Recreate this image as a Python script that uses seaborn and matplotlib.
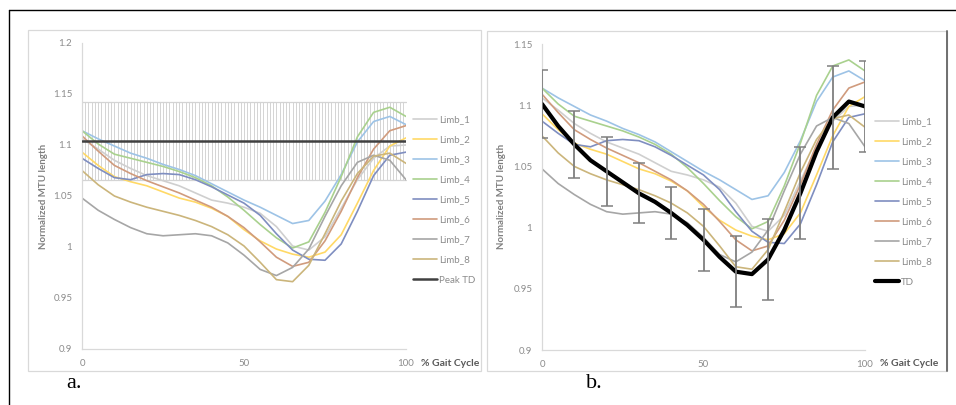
import matplotlib
matplotlib.use("Agg")
import matplotlib.pyplot as plt
from matplotlib.lines import Line2D
from matplotlib.patches import Rectangle
import pandas as pd
import seaborn as sns

# ---------------- data ----------------
PCT = list(range(0, 101, 5))

LIMB_1 = [1.106, 1.096, 1.085, 1.077, 1.070, 1.065, 1.060, 1.053, 1.046, 1.043, 1.039,
          1.033, 1.020, 1.001, 0.997, 1.010, 1.038, 1.066, 1.087, 1.099, 1.100]
LIMB_2 = [1.093, 1.080, 1.069, 1.064, 1.060, 1.054, 1.048, 1.044, 1.038, 1.030, 1.017,
          1.006, 0.998, 0.993, 0.990, 0.995, 1.012, 1.043, 1.075, 1.099, 1.107]
LIMB_3 = [1.114, 1.106, 1.099, 1.092, 1.087, 1.081, 1.076, 1.070, 1.062, 1.054, 1.046,
          1.039, 1.031, 1.023, 1.026, 1.045, 1.071, 1.103, 1.123, 1.128, 1.120]
LIMB_4 = [1.114, 1.101, 1.091, 1.087, 1.083, 1.079, 1.074, 1.068, 1.060, 1.049, 1.036,
          1.022, 1.009, 0.999, 1.005, 1.034, 1.069, 1.108, 1.132, 1.137, 1.128]
LIMB_5 = [1.087, 1.077, 1.068, 1.066, 1.071, 1.072, 1.071, 1.066, 1.059, 1.051, 1.043,
          1.031, 1.013, 0.997, 0.988, 0.987, 1.003, 1.035, 1.070, 1.090, 1.093]
LIMB_6 = [1.109, 1.094, 1.080, 1.072, 1.065, 1.059, 1.053, 1.046, 1.039, 1.030, 1.019,
          1.005, 0.990, 0.981, 0.985, 1.006, 1.035, 1.068, 1.096, 1.114, 1.119]
LIMB_7 = [1.048, 1.036, 1.027, 1.019, 1.013, 1.011, 1.012, 1.013, 1.011, 1.004, 0.992,
          0.978, 0.972, 0.980, 0.998, 1.030, 1.060, 1.083, 1.090, 1.085, 1.066]
LIMB_8 = [1.075, 1.061, 1.050, 1.044, 1.039, 1.035, 1.031, 1.026, 1.020, 1.012, 1.001,
          0.985, 0.968, 0.966, 0.982, 1.013, 1.045, 1.072, 1.089, 1.092, 1.082]

TD = [1.101, 1.083, 1.068, 1.055, 1.046, 1.037, 1.028, 1.021, 1.012, 1.002, 0.990,
      0.976, 0.964, 0.962, 0.974, 0.998, 1.028, 1.062, 1.090, 1.103, 1.099]
TD_ERR_PCT = list(range(0, 101, 10))
TD_ERR_MEAN = [1.101, 1.068, 1.046, 1.028, 1.012, 0.990, 0.964, 0.974, 1.028, 1.090, 1.099]
TD_SD = [0.028, 0.0275, 0.028, 0.0245, 0.0215, 0.0255, 0.029, 0.033, 0.0375, 0.042, 0.037]

PEAK_TD = 1.104
PEAK_TD_SD = 0.038
BAND_PCT = list(range(0, 101))

LIMB_NAMES = ["Limb_1", "Limb_2", "Limb_3", "Limb_4", "Limb_5", "Limb_6", "Limb_7", "Limb_8"]
LIMB_COLORS = ["#CFCFCF", "#FFD966", "#9DC3E6", "#A9D18E", "#7F8EC0", "#D09B7D",
               "#A6A6A6", "#CBB57B"]

YTICKS_A = [0.9, 0.95, 1.0, 1.05, 1.1, 1.15, 1.2]
YLABELS_A = ["0.9", "0.95", "1", "1.05", "1.1", "1.15", "1.2"]
YTICKS_B = [0.9, 0.95, 1.0, 1.05, 1.1, 1.15]
YLABELS_B = ["0.9", "0.95", "1", "1.05", "1.1", "1.15"]
XTICKS = [0, 50, 100]
XLABELS = ["0", "50", "100"]

# ---------------- style ----------------
sns.set_style("white")
plt.rcParams["font.family"] = ["Lato", "DejaVu Sans"]

W, H = 956, 405
fig = plt.figure(figsize=(W / 100, H / 100), dpi=100)


def fx(x):
    return x / W


def fy(y):
    return 1 - y / H


long = pd.DataFrame({
    "pct": PCT * len(LIMB_NAMES),
    "value": LIMB_1 + LIMB_2 + LIMB_3 + LIMB_4 + LIMB_5 + LIMB_6 + LIMB_7 + LIMB_8,
    "limb": [n for n in LIMB_NAMES for _ in PCT],
})
palette = dict(zip(LIMB_NAMES, LIMB_COLORS))

GRID = "#D9D9D9"
TICKC = "#8C8C8C"


def style_axes(ax, ylim, yt, yl):
    ax.set_xlim(0, 100)
    ax.set_ylim(*ylim)
    ax.set_xticks(XTICKS)
    ax.set_xticklabels(XLABELS)
    ax.set_yticks(yt)
    ax.set_yticklabels(yl)
    for s in ["top", "right"]:
        ax.spines[s].set_visible(False)
    for s in ["left", "bottom"]:
        ax.spines[s].set_color(GRID)
        ax.spines[s].set_linewidth(0.9)
    ax.tick_params(axis="both", length=0, labelsize=7, labelcolor=TICKC)
    ax.tick_params(axis="y", pad=7)
    ax.tick_params(axis="x", pad=7)
    ax.set_xlabel("")
    ax.set_ylabel("")
    ax.patch.set_alpha(0)


LEG_KW = dict(loc="upper left", bbox_transform=fig.transFigure, frameon=False,
              fontsize=7, handlelength=2.5, handletextpad=0.15, labelspacing=1.14,
              borderpad=0, borderaxespad=0)

# ---------------- panel a ----------------
axA = fig.add_axes([fx(82), 1 - 349 / H, 324 / W, 306 / H])
axA.errorbar(BAND_PCT, [PEAK_TD] * len(BAND_PCT), yerr=PEAK_TD_SD, fmt="none",
             ecolor="#D4D4D4", elinewidth=0.7, capsize=2.4, capthick=0.8, zorder=1)
sns.lineplot(data=long, x="pct", y="value", hue="limb", palette=palette, ax=axA,
             legend=False, linewidth=1.2, zorder=2)
sns.lineplot(x=BAND_PCT, y=[PEAK_TD] * len(BAND_PCT), ax=axA, color="#404040",
             linewidth=1.8, zorder=3)
style_axes(axA, (0.9, 1.2), YTICKS_A, YLABELS_A)

handlesA = [Line2D([], [], color=c, lw=1.2) for c in LIMB_COLORS] + \
           [Line2D([], [], color="#404040", lw=1.8)]
legA = axA.legend(handlesA, LIMB_NAMES + ["Peak TD"],
                  bbox_to_anchor=(fx(413), fy(115)), **LEG_KW)
for t in legA.get_texts():
    t.set_color(TICKC)

# ---------------- panel b ----------------
axB = fig.add_axes([fx(542), 1 - 350 / H, 323 / W, 306 / H])
sns.lineplot(data=long, x="pct", y="value", hue="limb", palette=palette, ax=axB,
             legend=False, linewidth=1.2, zorder=2)
sns.lineplot(x=PCT, y=TD, ax=axB, color="black", linewidth=3.0, zorder=3)
axB.errorbar(TD_ERR_PCT, TD_ERR_MEAN, yerr=TD_SD, fmt="none", ecolor="#7F7F7F",
             elinewidth=1.3, capsize=4.0, capthick=1.1, zorder=4)
style_axes(axB, (0.9, 1.15), YTICKS_B, YLABELS_B)

handlesB = [Line2D([], [], color=c, lw=1.2) for c in LIMB_COLORS] + \
           [Line2D([], [], color="black", lw=3.0)]
legB = axB.legend(handlesB, LIMB_NAMES + ["TD"],
                  bbox_to_anchor=(fx(875), fy(117)), **LEG_KW)
for t in legB.get_texts():
    t.set_color(TICKC)

# ---------------- texts ----------------
for x in (43, 502):
    fig.text(fx(x), fy(196), "Normalized MTU length", rotation=90, ha="center",
             va="center", fontsize=7, fontweight="bold", color="#7F7F7F")
fig.text(fx(421), fy(363), "% Gait Cycle", ha="left", va="center", fontsize=7.5,
         fontweight="bold", color="#595959")
fig.text(fx(880), fy(363), "% Gait Cycle", ha="left", va="center", fontsize=7.5,
         fontweight="bold", color="#595959")
fig.text(fx(66), fy(383), "a.", ha="left", va="center", fontsize=16,
         family=["Liberation Serif", "DejaVu Serif"], color="black")
fig.text(fx(586), fy(383), "b.", ha="left", va="center", fontsize=16,
         family=["Liberation Serif", "DejaVu Serif"], color="black")

# ---------------- frames ----------------
fig.add_artist(Line2D([fx(9), fx(956)], [fy(10), fy(10)], color="black", lw=1.0))
fig.add_artist(Line2D([fx(9), fx(9)], [fy(10), fy(405)], color="black", lw=1.0))
fig.add_artist(Rectangle((fx(28), fy(371)), fx(481) - fx(28), fy(30) - fy(371),
                         fill=False, edgecolor=GRID, lw=0.9))
fig.add_artist(Rectangle((fx(487), fy(371)), fx(947) - fx(487), fy(31) - fy(371),
                         fill=False, edgecolor=GRID, lw=0.9))
fig.add_artist(Line2D([fx(947), fx(947)], [fy(31), fy(371)], color="#6F6F6F", lw=1.4))

fig.savefig("out.png", dpi=100)
